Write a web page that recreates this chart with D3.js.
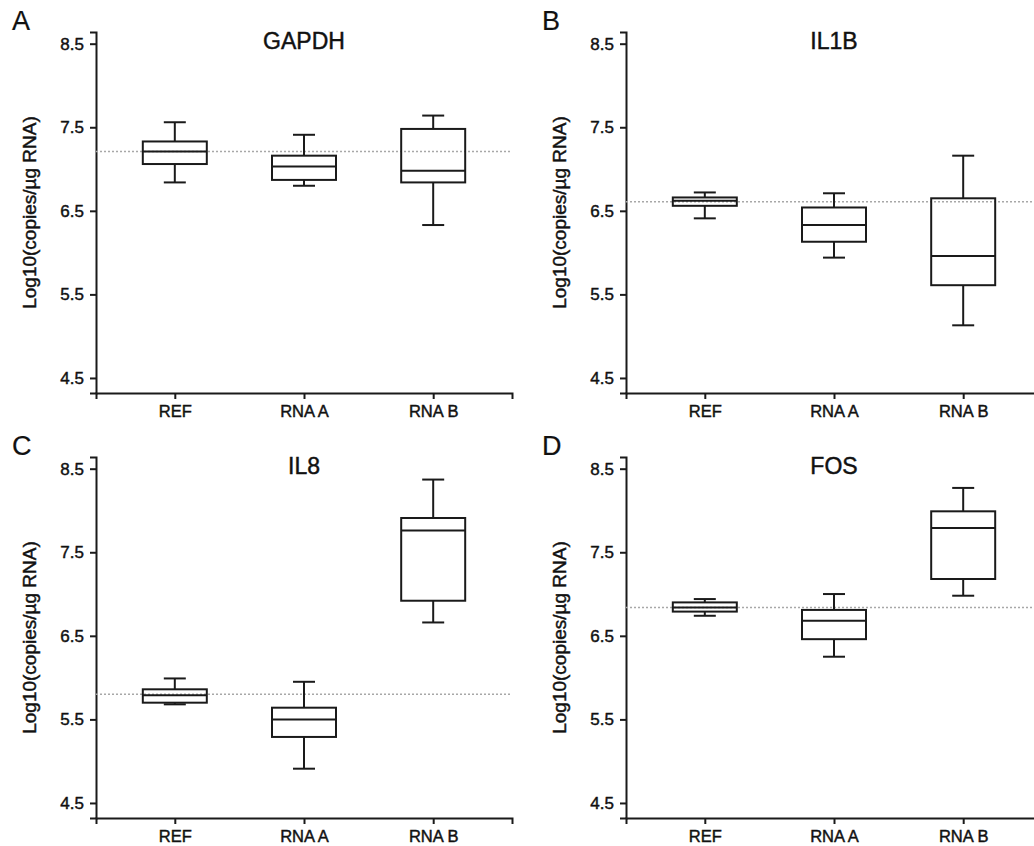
<!DOCTYPE html>
<html>
<head>
<meta charset="utf-8">
<script src="https://cdn.jsdelivr.net/npm/d3@7"></script>
<style>
  body { margin: 0; background: #fff; }
  svg text { font-family: "Liberation Sans", Arial, sans-serif; fill: #111; stroke: #111; stroke-width: 0.45px; }
</style>
</head>
<body>
<div id="chart"></div>
<script>
// categories and tick labels
const groups = ["REF", "RNA A", "RNA B"];
const yTicks = [4.5, 5.5, 6.5, 7.5, 8.5];
const panelLetters = ["A", "B", "C", "D"];
const genes = ["GAPDH", "IL1B", "IL8", "FOS"];
// dotted reference line (REF median) per gene
const refLines = [7.21, 6.61, 5.80, 6.84];

// box stats per group: [whisker low, q1, median, q3, whisker high]
const gapdhStats = [[6.84, 7.06, 7.21, 7.33, 7.56], [6.80, 6.87, 7.03, 7.16, 7.41], [6.33, 6.84, 6.98, 7.48, 7.64]];
const il1bStats  = [[6.41, 6.56, 6.62, 6.66, 6.72], [5.94, 6.13, 6.33, 6.54, 6.71], [5.13, 5.61, 5.96, 6.65, 7.16]];
const il8Stats   = [[5.68, 5.70, 5.79, 5.86, 5.99], [4.91, 5.29, 5.50, 5.64, 5.95], [6.66, 6.92, 7.76, 7.91, 8.37]];
const fosStats   = [[6.74, 6.79, 6.84, 6.90, 6.94], [6.25, 6.46, 6.68, 6.81, 7.00], [6.98, 7.18, 7.79, 7.99, 8.27]];
const allStats = [gapdhStats, il1bStats, il8Stats, fosStats];

const W = 1034, H = 846;
const svg = d3.select("#chart").append("svg")
    .attr("width", W)
    .attr("height", H);

// panel offsets (axis origin)
const offsets = [[96, 0], [626, 0], [96, 425], [626, 425]];
const plotW = 416;
const lineColor = "#1a1a1a";

genes.forEach((gene, i) => {
    const [ox, oy] = offsets[i];
    const g = svg.append("g").attr("transform", `translate(${ox},${oy})`);

    const y = d3.scaleLinear().domain([4.32, 8.64]).range([393, 32]);
    const x = d3.scalePoint().domain(groups).range([0, plotW]).padding(0.61);

    // y axis
    const yAxis = g.append("g")
        .call(d3.axisLeft(y).tickValues(yTicks).tickFormat(d3.format(".1f")).tickSizeOuter(0).tickSize(6).tickPadding(6));
    yAxis.select(".domain").attr("stroke", lineColor).attr("stroke-width", 2);
    yAxis.selectAll(".tick line").attr("stroke", lineColor).attr("stroke-width", 2);
    yAxis.selectAll(".tick text").attr("font-size", 17).attr("fill", "#111");

    // x axis
    const xAxis = g.append("g")
        .attr("transform", `translate(0,${y.range()[0]})`)
        .call(d3.axisBottom(x).tickSizeOuter(0).tickSize(6).tickPadding(6));
    xAxis.select(".domain").attr("stroke", lineColor).attr("stroke-width", 2);
    xAxis.selectAll(".tick line").attr("stroke", lineColor).attr("stroke-width", 2);
    xAxis.selectAll(".tick text").attr("font-size", 16.5).attr("fill", "#111");

    // dotted reference line
    g.append("line")
        .attr("x1", 0).attr("x2", plotW)
        .attr("y1", y(refLines[i])).attr("y2", y(refLines[i]))
        .attr("stroke", "#a8a8a8")
        .attr("stroke-width", 1.5)
        .attr("stroke-dasharray", "2,2");

    // boxes
    const boxW = 64, capW = 22;
    const box = g.selectAll(".box")
        .data(allStats[i].map((s, j) => ({ grp: groups[j], s: s })))
        .join("g")
        .attr("class", "box")
        .attr("transform", d => `translate(${x(d.grp)},0)`);

    box.append("line")
        .attr("x1", 0).attr("x2", 0)
        .attr("y1", d => y(d.s[4])).attr("y2", d => y(d.s[3]))
        .attr("stroke", lineColor).attr("stroke-width", 2);
    box.append("line")
        .attr("x1", 0).attr("x2", 0)
        .attr("y1", d => y(d.s[1])).attr("y2", d => y(d.s[0]))
        .attr("stroke", lineColor).attr("stroke-width", 2);
    box.append("line")
        .attr("x1", -capW / 2).attr("x2", capW / 2)
        .attr("y1", d => y(d.s[4])).attr("y2", d => y(d.s[4]))
        .attr("stroke", lineColor).attr("stroke-width", 2);
    box.append("line")
        .attr("x1", -capW / 2).attr("x2", capW / 2)
        .attr("y1", d => y(d.s[0])).attr("y2", d => y(d.s[0]))
        .attr("stroke", lineColor).attr("stroke-width", 2);
    box.append("rect")
        .attr("x", -boxW / 2)
        .attr("width", boxW)
        .attr("y", d => y(d.s[3]))
        .attr("height", d => y(d.s[1]) - y(d.s[3]))
        .attr("fill", "none")
        .attr("stroke", lineColor).attr("stroke-width", 2);
    box.append("line")
        .attr("x1", -boxW / 2).attr("x2", boxW / 2)
        .attr("y1", d => y(d.s[2])).attr("y2", d => y(d.s[2]))
        .attr("stroke", lineColor).attr("stroke-width", 2);

    // title
    g.append("text")
        .attr("x", x(groups[1]))
        .attr("y", 49)
        .attr("text-anchor", "middle")
        .attr("font-size", 23)
        .text(gene);

    // y label
    g.append("text")
        .attr("transform", `translate(-60,${(y.range()[0] + y.range()[1]) / 2}) rotate(-90)`)
        .attr("text-anchor", "middle")
        .attr("font-size", 19)
        .text("Log10(copies/µg RNA)");

    // panel letter
    g.append("text")
        .attr("x", -84)
        .attr("y", 30)
        .attr("font-size", 27)
        .style("stroke-width", "0.2px")
        .text(panelLetters[i]);
});
</script>
</body>
</html>
